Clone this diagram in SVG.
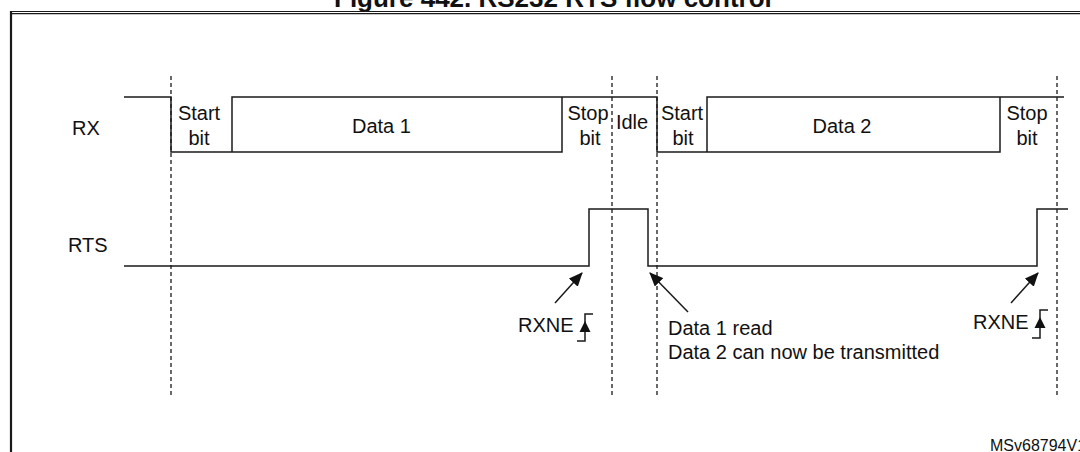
<svg xmlns="http://www.w3.org/2000/svg" width="1080" height="452" viewBox="0 0 1080 452">
  <style>
    .t{font-family:"Liberation Sans",Arial,sans-serif;font-size:20px;fill:#111}
    .title{font-family:"Liberation Sans",Arial,sans-serif;font-size:26px;font-weight:bold;fill:#111}
    .sig{fill:none;stroke:#1a1a1a;stroke-width:1.5}
    .dash{fill:none;stroke:#1a1a1a;stroke-width:1.3;stroke-dasharray:4 3}
    .arr{fill:none;stroke:#1a1a1a;stroke-width:1.5}
    .frame{fill:none;stroke:#1a1a1a}
  </style>
  <defs>
    <marker id="ah" markerWidth="14" markerHeight="12" refX="13" refY="6" orient="auto" markerUnits="userSpaceOnUse">
      <path d="M0,0 L14,6 L0,12 Z" fill="#111"/>
    </marker>
  </defs>
  <rect width="1080" height="452" fill="#fff"/>

  <g id="title">
    <text class="title" x="334" y="7">Figure 442. RS232 RTS flow control</text>
  </g>
  <g id="frame">
    <line class="frame" x1="10" y1="11.5" x2="1080" y2="11.5" stroke-width="1.2"/>
    <line class="frame" x1="10" y1="13.6" x2="1080" y2="13.6" stroke-width="1.2"/>
    <line class="frame" x1="11" y1="11" x2="11" y2="452" stroke-width="2.2"/>
  </g>

  <g id="dashed-markers">
    <line class="dash" x1="171" y1="76" x2="171" y2="397"/>
    <line class="dash" x1="612" y1="76" x2="612" y2="397"/>
    <line class="dash" x1="657" y1="76" x2="657" y2="397"/>
    <line class="dash" x1="1057" y1="76" x2="1057" y2="397"/>
  </g>

  <g id="rx-signal">
    <text class="t" x="72" y="135">RX</text>
    <path class="sig" d="M124,97 H171 V152 H562 V97 H657 V152 H707 V97 H1000 V152 H707 M232,152 V97 H562 M1000,97 H1064"/>
    <text class="t" x="199" y="120" text-anchor="middle">Start</text>
    <text class="t" x="199" y="145" text-anchor="middle">bit</text>
    <text class="t" x="352" y="133">Data 1</text>
    <text class="t" x="588" y="120" text-anchor="middle">Stop</text>
    <text class="t" x="590" y="145" text-anchor="middle">bit</text>
    <text class="t" x="632" y="129" text-anchor="middle">Idle</text>
    <text class="t" x="682" y="120" text-anchor="middle">Start</text>
    <text class="t" x="683" y="145" text-anchor="middle">bit</text>
    <text class="t" x="842" y="133" text-anchor="middle">Data 2</text>
    <text class="t" x="1027" y="120" text-anchor="middle">Stop</text>
    <text class="t" x="1027" y="145" text-anchor="middle">bit</text>
  </g>

  <g id="rts-signal">
    <text class="t" x="68" y="252">RTS</text>
    <path class="sig" d="M124,266 H589 V209 H648 V266 H1037 V209 H1068"/>
  </g>

  <g id="rxne-1">
    <text class="t" x="518" y="332">RXNE</text>
    <path class="sig" d="M577,341 H585 V314 H593"/>
    <path d="M585,321 L590.5,332 L579.5,332 Z" fill="#111"/>
  </g>

  <g id="rxne-2">
    <text class="t" x="973" y="329">RXNE</text>
    <path class="sig" d="M1032,338 H1040 V310 H1048"/>
    <path d="M1040,317 L1045.5,328 L1034.5,328 Z" fill="#111"/>
  </g>

  <g id="note">
    <text class="t" x="668" y="335">Data 1 read</text>
    <text class="t" x="668" y="359">Data 2 can now be transmitted</text>
  </g>

  <g id="connectors">
    <line class="arr" x1="555" y1="303" x2="582" y2="273" marker-end="url(#ah)"/>
    <line class="arr" x1="688" y1="312" x2="650" y2="273" marker-end="url(#ah)"/>
    <line class="arr" x1="1011" y1="303" x2="1038" y2="273" marker-end="url(#ah)"/>
  </g>

  <g id="ref">
    <text class="t" x="990" y="451" style="font-size:16px">MSv68794V1</text>
  </g>
</svg>
